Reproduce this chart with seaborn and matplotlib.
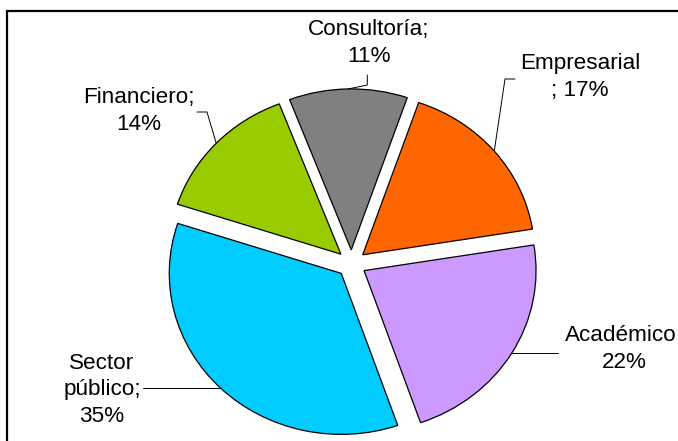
#!/usr/bin/env python3
"""
Pie chart: distribution by sector (exploded slices, Excel style labels)
"""

import matplotlib
matplotlib.use('Agg')
import matplotlib.pyplot as plt
import matplotlib.patches as mpatches
import seaborn as sns
import numpy as np

# data (clockwise from the top right)
sectors = ['Empresarial', 'Académico', 'Sector público', 'Financiero', 'Consultoría']
shares = [17, 22, 35, 14, 11]
label_texts = ['Empresarial\n; 17%', 'Académico;\n22%', 'Sector\npúblico;\n35%',
               'Financiero;\n14%', 'Consultoría;\n11%']
colors = ['#FF6600', '#CC99FF', '#00CCFF', '#99CC00', '#808080']

# layout in image pixels (y measured from the top)
W, H = 678, 441
CX, CY = 351.5, 263.6      # pie centre
RX, RY = 172.0, 161.0      # radius along x / y
label_pos = [(580, 77), (624, 349), (102, 390), (139, 111), (369, 43)]
# leader line points from the label towards the slice
leader_pts = [
    [(515, 79), (505, 79)],
    [(558, 352)],
    [(143, 391)],
    [(197, 112), (207, 112)],
    [(367.3, 75), (367.3, 85)],
]


def px(x, y):
    """image pixel -> data coords"""
    return (x - CX) / RX, (CY - y) / RY


def main():
    sns.set_theme(style='white')
    plt.rcParams['font.family'] = ['Liberation Sans', 'DejaVu Sans']

    fig = plt.figure(figsize=(W / 100, H / 100), dpi=100)
    ax = fig.add_axes([0, 0, 1, 1])

    explode = [0.085] * len(shares)
    start = 71
    wedges, _ = ax.pie(shares, colors=colors, explode=explode, startangle=start,
                       counterclock=False,
                       wedgeprops=dict(edgecolor='black', linewidth=0.9))
    ax.set_aspect('auto')
    ax.set_xlim(-CX / RX, (W - CX) / RX)
    ax.set_ylim(-(H - CY) / RY, CY / RY)
    ax.axis('off')

    for i, w in enumerate(wedges):
        mid = np.deg2rad((w.theta1 + w.theta2) / 2)
        cx, cy = w.center
        end = (cx + w.r * np.cos(mid), cy + w.r * np.sin(mid))
        pts = [px(*p) for p in leader_pts[i]]
        if len(pts) == 1:
            # straight horizontal leader
            pts[0] = (pts[0][0], end[1])
        pts.append(end)
        xs, ys = zip(*pts)
        ax.plot(xs, ys, color='black', lw=0.7, solid_joinstyle='miter')
        tx, ty = px(*label_pos[i])
        ax.text(tx, ty, label_texts[i], ha='center', va='center', fontsize=16.2,
                color='black', linespacing=1.35, clip_on=False)

    # chart frame
    frame = mpatches.Rectangle((7 / W, -0.1), 1.2, (H - 10.5) / H + 0.1,
                               transform=fig.transFigure, fill=False,
                               edgecolor='black', linewidth=1.6)
    fig.patches.append(frame)

    fig.savefig('out.png', dpi=100)


if __name__ == "__main__":
    main()
